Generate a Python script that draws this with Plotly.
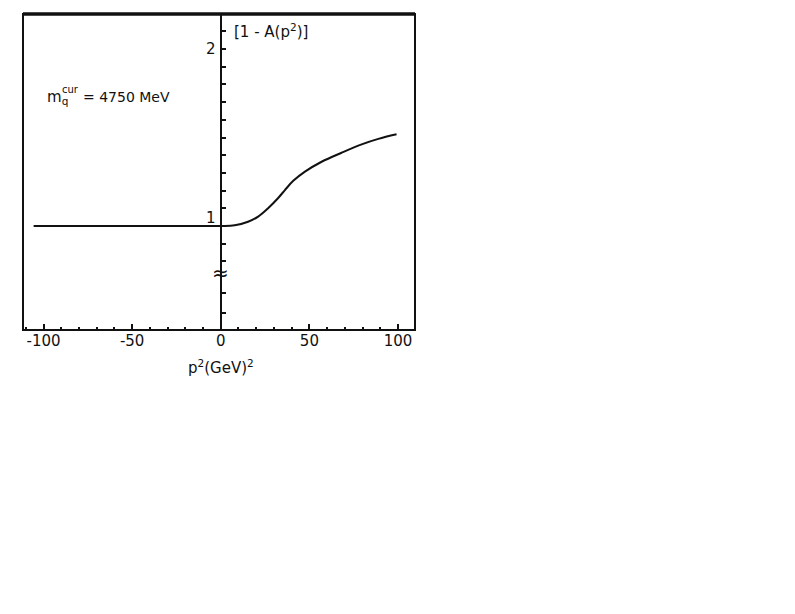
import plotly.graph_objects as go

# curve: [1 - A(p^2)] vs p^2 (GeV^2)
p2 = [-105.6, -80, -60, -40, -20, 0, 7.9, 15.4, 21.1, 26.7, 32.4, 36.2, 40.9, 47.5,
      56.9, 68.2, 79.5, 88.9, 99.2]
one_minus_a = [1.0, 1.0, 1.0, 1.0, 1.0, 1.0, 1.004, 1.024, 1.053, 1.10, 1.158, 1.203, 1.255, 1.307,
               1.363, 1.414, 1.461, 1.492, 1.518]

x_range = [-111.6, 109.6]
y_range = [0.412, 2.198]

x_major = [-100, -50, 0, 50, 100]
x_labels = ["-100", "-50", "0", "50", "100"]
y_minor = [0.51, 0.62, 0.8, 0.9, 1.0, 1.1, 1.2, 1.3, 1.4, 1.5, 1.6, 1.7, 1.8, 1.9, 2.0, 2.1]
y_labels = {1.0: "1", 2.0: "2"}

FONT = "DejaVu Sans"
INK = "#111111"

fig = go.Figure()
fig.add_trace(go.Scatter(x=p2, y=one_minus_a, mode="lines",
                         line=dict(color=INK, width=2, shape="spline", smoothing=1.0),
                         showlegend=False, hoverinfo="skip"))

# page body has an 8px margin, so the figure is a bit smaller than the window
fig.update_layout(
    width=779, height=598,
    margin=dict(l=15, r=372, t=6, b=276),
    paper_bgcolor="white", plot_bgcolor="white",
    font=dict(family=FONT, size=14, color=INK),
    xaxis=dict(
        range=x_range, showgrid=False, zeroline=False, showline=False,
        tickvals=x_major, ticktext=x_labels,
        ticks="inside", ticklen=6, tickwidth=1.5, tickcolor=INK,
        minor=dict(dtick=10, ticks="inside", ticklen=3, tickcolor=INK, showgrid=False),
        tickfont=dict(size=15),
    ),
    yaxis=dict(
        range=y_range, showgrid=False, zeroline=False,
        anchor="free", position=(0 - x_range[0]) / (x_range[1] - x_range[0]),
        showline=True, linecolor=INK, linewidth=2,
        tickvals=y_minor, ticks="inside", ticklen=4, tickwidth=1.5, tickcolor=INK,
        showticklabels=False,
    ),
)

# frame
fig.add_shape(type="rect", xref="paper", yref="paper", x0=0, x1=1, y0=0, y1=1,
              line=dict(color=INK, width=2))
fig.add_shape(type="line", xref="paper", yref="paper", x0=0, x1=1, y0=1, y1=1,
              line=dict(color=INK, width=3.5))

for val, txt in y_labels.items():
    fig.add_annotation(x=0, y=val + (0.045 if val == 1.0 else 0), xref="x", yref="y",
                       text=txt, showarrow=False, xanchor="right", xshift=-3,
                       font=dict(size=15))

# axis break mark
fig.add_annotation(x=0, y=0.735, xref="x", yref="y", text="≈", showarrow=False,
                   font=dict(size=20))

fig.add_annotation(x=6.5, y=2.1, xref="x", yref="y", text="[1 - A(p<sup>2</sup>)]",
                   showarrow=False, xanchor="left", font=dict(size=15))

fig.add_annotation(x=0, y=-0.117, xref="x", yref="paper", text="p<sup>2</sup>(GeV)<sup>2</sup>",
                   showarrow=False, xanchor="center", yanchor="middle", font=dict(size=15))

# m_q^cur = 4750 MeV
fig.add_annotation(x=-99, y=1.725, xref="x", yref="y", text="m<sub>q</sub>",
                   showarrow=False, xanchor="left", font=dict(size=15))
fig.add_annotation(x=-90.5, y=1.77, xref="x", yref="y", text="cur",
                   showarrow=False, xanchor="left", font=dict(size=10))
fig.add_annotation(x=-79, y=1.73, xref="x", yref="y", text="= 4750 MeV",
                   showarrow=False, xanchor="left", font=dict(size=14))

fig.write_html("out.html")
